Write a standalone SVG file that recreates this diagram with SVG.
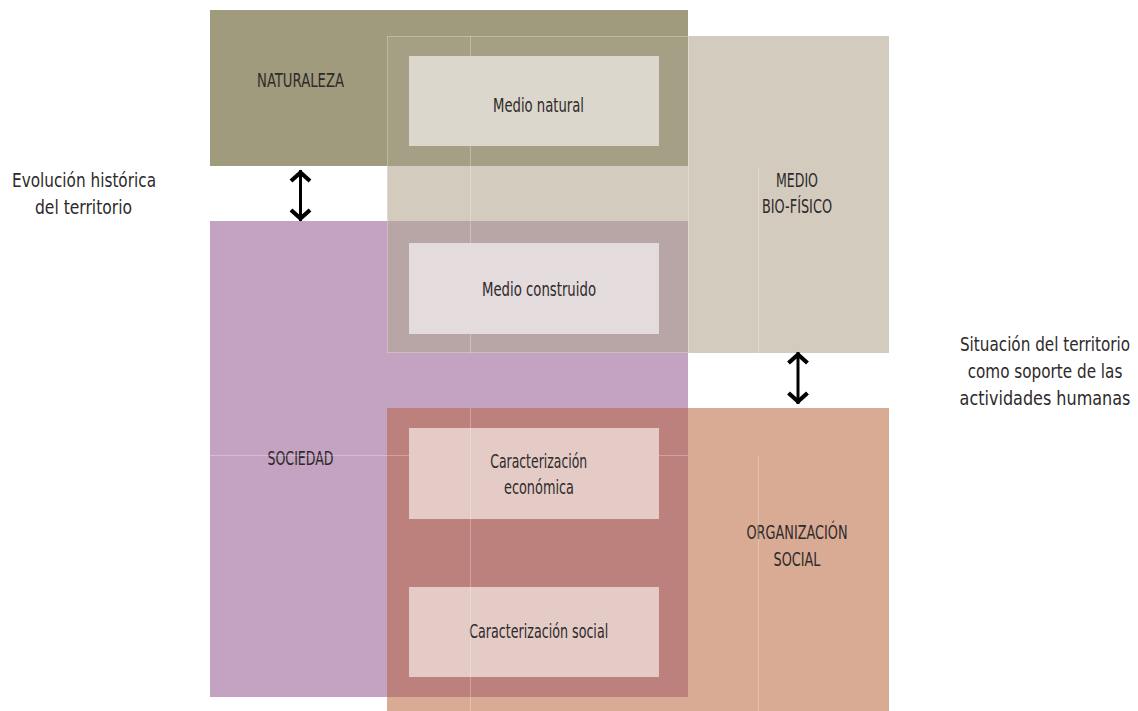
<svg xmlns="http://www.w3.org/2000/svg" width="1138" height="711" viewBox="0 0 1138 711">
  <style>
    text { font-family: "Liberation Sans Narrow", "DejaVu Sans Condensed", "Liberation Sans", sans-serif; font-size: 19px; fill: #2e2a2b; text-anchor: middle; font-stretch: condensed; }
    .side { font-size: 20px; }
    .seam { stroke: #ffffff; stroke-opacity: 0.28; stroke-width: 1; fill: none; }
    .box { stroke: none; }
    .conn { stroke: #000; stroke-width: 3; fill: none; }
  </style>
  <defs>
    <marker id="chev" markerUnits="userSpaceOnUse" markerWidth="30" markerHeight="30" viewBox="-15 -15 30 30" refX="0" refY="0" orient="auto-start-reverse" overflow="visible">
      <path d="M-11,-9.5 L-2.5,0 L-11,9.5" stroke="#000" stroke-width="4.2" fill="none" stroke-linejoin="miter" stroke-miterlimit="10"/>
    </marker>
  </defs>
  <rect width="1138" height="711" fill="#ffffff"/>

  <g id="medio-biofisico">
    <rect x="387" y="36" width="502" height="317" fill="#d3ccbe"/>
    <text x="797" y="187" textLength="42" lengthAdjust="spacingAndGlyphs">MEDIO</text>
    <text x="797" y="213" textLength="70" lengthAdjust="spacingAndGlyphs">BIO-FÍSICO</text>
  </g>
  <g id="organizacion-social">
    <rect x="387" y="408" width="502" height="303" fill="#d9ab94"/>
    <text x="797" y="539" textLength="101" lengthAdjust="spacingAndGlyphs">ORGANIZACIÓN</text>
    <text x="797" y="566" textLength="47" lengthAdjust="spacingAndGlyphs">SOCIAL</text>
  </g>
  <g id="naturaleza">
    <rect x="210" y="10" width="478" height="156" fill="#a09b7d"/>
    <rect x="387" y="36" width="301" height="130" fill="#a59f86"/>
    <text x="300.5" y="87" textLength="87" lengthAdjust="spacingAndGlyphs">NATURALEZA</text>
  </g>
  <g id="sociedad">
    <rect x="210" y="221" width="478" height="476" fill="#c4a2c1"/>
    <rect x="387" y="221" width="301" height="132" fill="#b8a5a5"/>
    <rect x="387" y="408" width="301" height="289" fill="#bc807d"/>
    <text x="300.5" y="465" textLength="66" lengthAdjust="spacingAndGlyphs">SOCIEDAD</text>
  </g>

  <g id="seams">
    <line class="seam" x1="470.5" y1="36" x2="470.5" y2="353"/>
    <line class="seam" x1="470.5" y1="408" x2="470.5" y2="711"/>
    <line class="seam" x1="758.5" y1="167" x2="758.5" y2="353"/>
    <line class="seam" x1="758.5" y1="456" x2="758.5" y2="711"/>
    <line class="seam" x1="210" y1="455.5" x2="688" y2="455.5"/>
    <rect class="seam" x="387.5" y="36.5" width="301" height="316"/>
  </g>

  <g id="medio-natural">
    <rect class="box" x="409" y="56" width="250" height="90" fill="#dbd7cc"/>
    <text x="538.5" y="112" textLength="91" lengthAdjust="spacingAndGlyphs">Medio natural</text>
  </g>
  <g id="medio-construido">
    <rect class="box" x="409" y="243" width="250" height="91" fill="#e3dbdc"/>
    <text x="539" y="296" textLength="114" lengthAdjust="spacingAndGlyphs">Medio construido</text>
  </g>
  <g id="caracterizacion-economica">
    <rect class="box" x="409" y="428" width="250" height="91" fill="#e5cbc6"/>
    <text x="538.7" y="468" textLength="97" lengthAdjust="spacingAndGlyphs">Caracterización</text>
    <text x="539" y="494" textLength="70" lengthAdjust="spacingAndGlyphs">económica</text>
  </g>
  <g id="caracterizacion-social">
    <rect class="box" x="409" y="587" width="250" height="90" fill="#e5cbc6"/>
    <text x="538.7" y="638" textLength="139" lengthAdjust="spacingAndGlyphs">Caracterización social</text>
  </g>

  <g id="seams-over">
    <line class="seam" x1="470.5" y1="428" x2="470.5" y2="519"/>
    <line class="seam" x1="470.5" y1="587" x2="470.5" y2="677"/>
  </g>

  <g id="evolucion">
    <text class="side" x="84" y="187" textLength="144" lengthAdjust="spacingAndGlyphs">Evolución histórica</text>
    <text class="side" x="83.5" y="214" textLength="97" lengthAdjust="spacingAndGlyphs">del territorio</text>
  </g>
  <g id="situacion" transform="translate(1045,0) scale(0.7,1)">
    <text class="side" x="0" y="351" textLength="243" lengthAdjust="spacingAndGlyphs">Situación del territorio</text>
    <text class="side" x="0" y="378" textLength="221" lengthAdjust="spacingAndGlyphs">como soporte de las</text>
    <text class="side" x="0" y="405" textLength="244" lengthAdjust="spacingAndGlyphs">actividades humanas</text>
  </g>

  <g id="connectors">
    <line class="conn" x1="300.5" y1="170" x2="300.5" y2="221" marker-start="url(#chev)" marker-end="url(#chev)"/>
    <line class="conn" x1="798" y1="352" x2="798" y2="404" marker-start="url(#chev)" marker-end="url(#chev)"/>
  </g>
</svg>
